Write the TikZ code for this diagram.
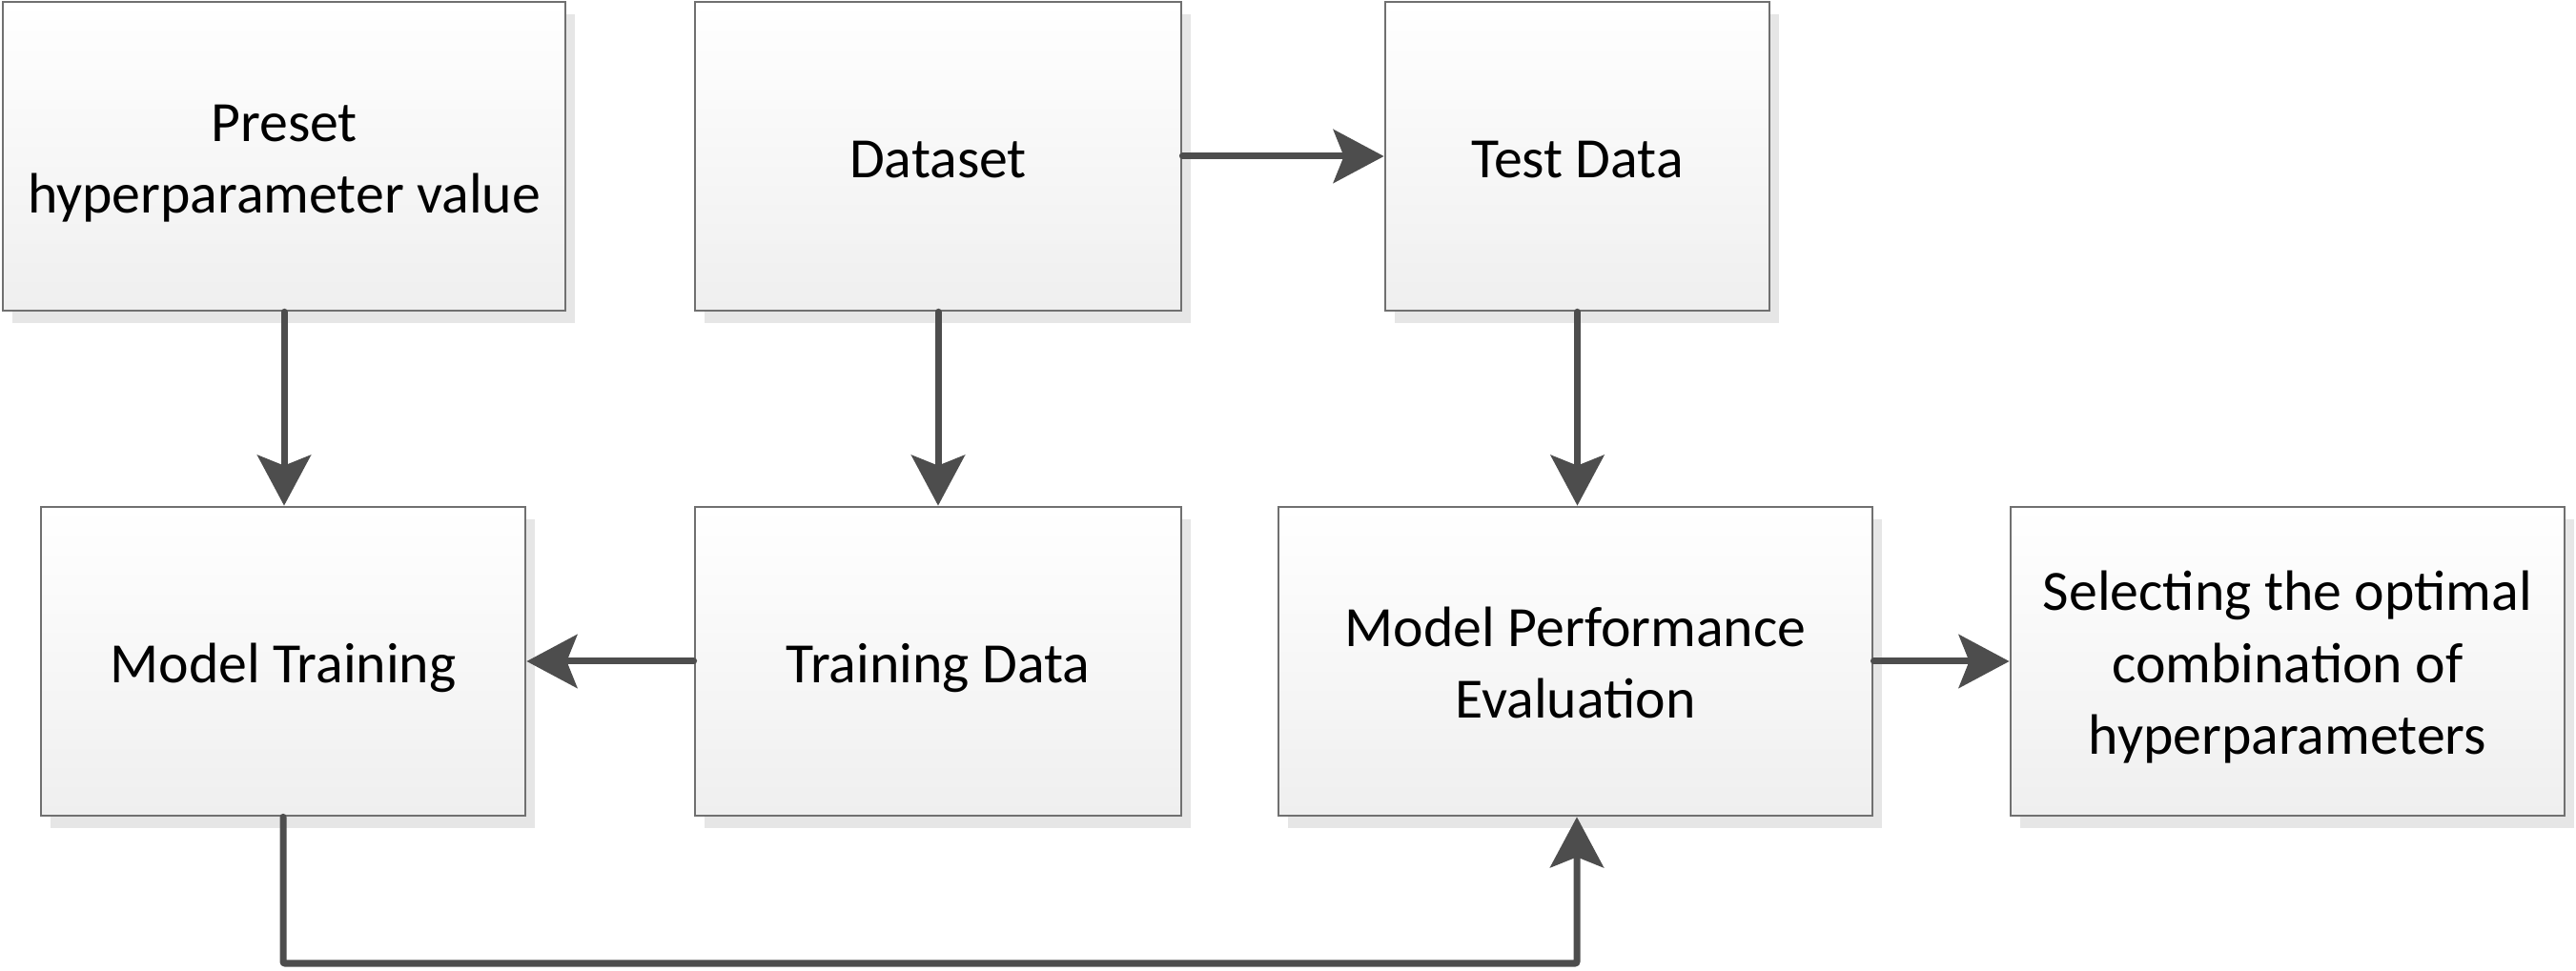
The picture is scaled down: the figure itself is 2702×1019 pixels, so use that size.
\documentclass[tikz,border=0pt]{standalone}
\usepackage{fontspec}
\setmainfont{Carlito}
\usetikzlibrary{arrows.meta,shadows}
\definecolor{boxline}{HTML}{707070}
\definecolor{arrowc}{HTML}{4D4D4D}
\definecolor{shadowc}{HTML}{E6E6E6}
\definecolor{boxbottom}{HTML}{EFEFEF}
\newcommand\lowtext[1]{\raisebox{-0.07cm}[\height][\depth]{\begin{tabular}{@{}c@{}}#1\end{tabular}}}
\begin{document}
\begin{tikzpicture}[x=0.01cm,y=-0.01cm,
  box/.style={draw=boxline, line width=0.025cm, top color=white, bottom color=boxbottom,
    minimum height=3.24cm, align=center, inner sep=0pt,
    font=\fontsize{17}{21.5}\selectfont,
    general shadow={fill=shadowc, draw=none, shadow xshift=0.1cm, shadow yshift=-0.13cm}},
  conn/.style={draw=arrowc, line width=0.07cm, line cap=round,
    -{Stealth[length=0.53cm, width=0.56cm, inset=0.11cm]}}]
\useasboundingbox (0,0) rectangle (2702,1019);
\node[box, minimum width=5.90cm] (preset) at (298,164) {\lowtext{Preset\\hyperparameter value}};
\node[box, minimum width=5.10cm] (dataset) at (984,164) {\lowtext{Dataset}};
\node[box, minimum width=4.03cm] (test) at (1654.5,164) {\lowtext{Test Data}};
\node[box, minimum width=5.08cm] (mt) at (297,694) {\lowtext{Model Training}};
\node[box, minimum width=5.10cm] (td) at (984,694) {\lowtext{Training Data}};
\node[box, minimum width=6.23cm] (perf) at (1652.5,694) {\lowtext{Model Performance\\Evaluation}};
\node[box, minimum width=5.81cm] (sel) at (2399.5,694) {\lowtext{Selecting the optimal\\combination of\\hyperparameters}};
\coordinate (loop) at (1654,1011);
\draw[conn] (preset.south) -- (preset.south |- mt.north);
\draw[conn] (dataset.south) -- (td.north);
\draw[conn] (dataset.east) -- (test.west |- dataset.east);
\draw[conn] (test.south) -- (test.south |- perf.north);
\draw[conn] (td.west) -- (mt.east |- td.west);
\draw[conn] (perf.east) -- (sel.west |- perf.east);
\draw[conn, rounded corners=0.02cm] (mt.south) |- (loop) -- (loop |- perf.south);
\end{tikzpicture}
\end{document}
